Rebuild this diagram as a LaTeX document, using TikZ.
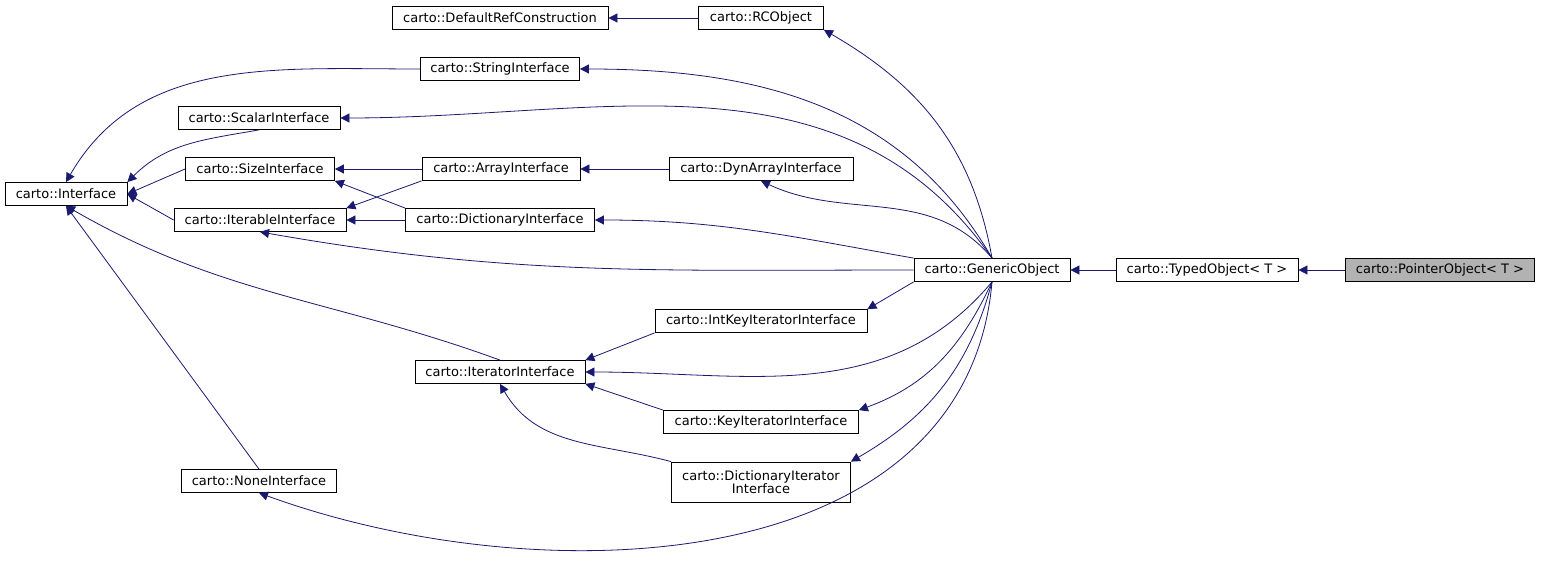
\documentclass[tikz,border=0pt]{standalone}
\usepackage{fontspec}
\setmainfont{DejaVu Sans}
\usetikzlibrary{arrows.meta}
\definecolor{edgeblue}{HTML}{191970}
\begin{document}
\begin{tikzpicture}[x=1pt,y=-1pt,
    cls/.style={draw=black, line width=0.8pt, fill=white, font=\fontsize{13}{13}\selectfont, inner sep=0pt, minimum height=23pt, align=center},
    inh/.style={draw=edgeblue, line width=0.8pt, -{Triangle[length=9pt,width=9pt]}, fill=none}]
		\useasboundingbox (0,0) rectangle (1541,577);
		% classes
		\node[cls, minimum width=216pt] (defref) at (500,18) {carto::DefaultRefConstruction};
		\node[cls, minimum width=125pt] (rcobj) at (761,18) {carto::RCObject};
		\node[cls, minimum width=159pt] (strif) at (500,69) {carto::StringInterface};
		\node[cls, minimum width=162pt] (scalif) at (259,118) {carto::ScalarInterface};
		\node[cls, minimum width=149pt] (sizeif) at (260,169) {carto::SizeInterface};
		\node[cls, minimum width=158pt] (arrif) at (501,169) {carto::ArrayInterface};
		\node[cls, minimum width=184pt] (dynarr) at (761,169) {carto::DynArrayInterface};
		\node[cls, minimum width=122pt] (iface) at (66,194) {carto::Interface};
		\node[cls, minimum width=172pt] (iterif) at (260,220) {carto::IterableInterface};
		\node[cls, minimum width=189pt] (dictif) at (500,220) {carto::DictionaryInterface};
		\node[cls, minimum width=156pt] (generic) at (992,270) {carto::GenericObject};
		\node[cls, minimum width=182pt] (typed) at (1207,270) {carto::TypedObject\textless{} T \textgreater{}};
		\node[cls, minimum width=189pt, fill=black!30] (pointer) at (1440,270) {carto::PointerObject\textless{} T \textgreater{}};
		\node[cls, minimum width=212pt] (intkey) at (761,321) {carto::IntKeyIteratorInterface};
		\node[cls, minimum width=170pt] (iterator) at (500,372) {carto::IteratorInterface};
		\node[cls, minimum width=195pt] (keyit) at (761,422) {carto::KeyIteratorInterface};
		\node[cls, minimum width=179pt, minimum height=40pt] (dictit) at (761,482) {carto::DictionaryIterator\\Interface};
		\node[cls, minimum width=155pt] (noneif) at (259,481) {carto::NoneInterface};
		% inheritance
		\draw[inh] (pointer) -- (typed);
		\draw[inh] (typed) -- (generic);
		\draw[inh] (rcobj) -- (defref);
		\draw[inh] (generic.north) to[out=100,in=-30] (rcobj.south east);
		\draw[inh] (generic.north) to[out=120,in=0] (strif.east);
		\draw[inh] (generic.north) to[out=125,in=0] (scalif.east);
		\draw[inh] (generic.north) to[out=130,in=-25] (dynarr.south);
		\draw[inh] (generic.north west) to[out=170,in=0] (dictif.east);
		\draw[inh] (generic.west) to[out=180,in=-10] (iterif.south);
		\draw[inh] (generic.south west) -- (intkey.north east);
		\draw[inh] (generic.south) to[out=-130,in=0] (iterator.east);
		\draw[inh] (generic.south) to[out=-115,in=20] (keyit.north east);
		\draw[inh] (generic.south) to[out=-105,in=30] (dictit.north east);
		\draw[inh] (generic.south) to[out=-95,in=-20] (noneif.south);
		\draw[inh] (dynarr) -- (arrif);
		\draw[inh] (arrif) -- (sizeif);
		\draw[inh] (arrif.south west) -- (iterif.north east);
		\draw[inh] (dictif.north west) -- (sizeif.south east);
		\draw[inh] (dictif) -- (iterif);
		\draw[inh] (intkey.south west) -- (iterator.north east);
		\draw[inh] (keyit.north west) -- (iterator.south east);
		\draw[inh] (dictit.north west) to[out=165,in=-60] (iterator.south);
		\draw[inh] (strif.west) to[out=180,in=60] (iface.north);
		\draw[inh] (scalif.south) to[out=190,in=45] (iface.north east);
		\draw[inh] (sizeif.west) -- (iface.east);
		\draw[inh] (iterif.west) -- (iface.east);
		\draw[inh] (iterator.north) to[out=160,in=-30] (iface.south);
		\draw[inh] (noneif.north) -- (iface.south);
	\end{tikzpicture}
\end{document}
